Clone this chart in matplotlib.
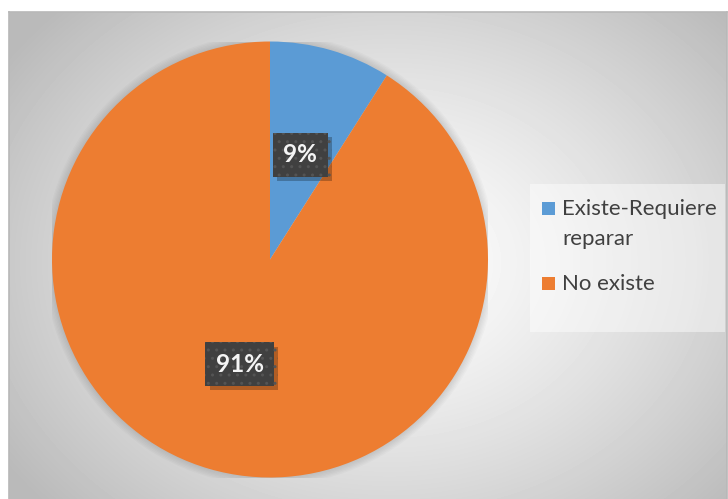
import numpy as np
import matplotlib
matplotlib.use("Agg")
import matplotlib.pyplot as plt
import matplotlib.patheffects as pe
from matplotlib.patches import Circle, Rectangle

# Datos del gráfico
categorias = ["Existe-Requiere\nreparar", "No existe"]
valores = [9, 91]
colores = ["#5B9BD5", "#ED7D31"]

W, H = 728, 499
fig = plt.figure(figsize=(W / 100, H / 100), dpi=100)
fig.patch.set_facecolor("white")

# Fondo con degradado radial (área del gráfico)
fondo = fig.add_axes([9 / W, 0, (W - 10) / W, (H - 12) / H])
yy, xx = np.mgrid[0:487, 0:718]
cx, cy = 380, 250
d = np.sqrt(((xx - cx) / 420.0) ** 2 + ((yy - cy) / 330.0) ** 2)
gris = 1.0 - 0.24 * np.clip(d, 0, 1.1) ** 1.3
fondo.imshow(gris, cmap="gray", vmin=0, vmax=1, aspect="auto",
             extent=[0, 1, 0, 1], interpolation="bilinear")
fondo.set_xlim(0, 1)
fondo.set_ylim(0, 1)
for lado in ["left", "top", "right"]:
    fondo.spines[lado].set_color("#b8b8b8")
    fondo.spines[lado].set_linewidth(1.2)
fondo.spines["bottom"].set_visible(False)
fondo.set_xticks([])
fondo.set_yticks([])

# Eje del pastel
cxp, cyp, r = 270, 259.5, 218
ax = fig.add_axes([(cxp - r) / W, (H - cyp - r) / H, 2 * r / W, 2 * r / H])
ax.set_facecolor("none")
ax.axis("off")

# Sombra suave alrededor del pastel
for k in range(6):
    ax.add_patch(Circle((0, 0), 1.0 + 0.006 * (k + 1), color="black",
                        alpha=0.018, lw=0, zorder=0))

wedges, textos, autotextos = ax.pie(
    valores, colors=colores, startangle=90, counterclock=False,
    autopct=lambda p: f"{p:.0f}%", pctdistance=0.5, radius=1.0,
    wedgeprops=dict(linewidth=0), textprops=dict(zorder=5))

for t in autotextos:
    t.set_fontsize(17.5)
    t.set_fontweight("bold")
    t.set_family("Lato")
    t.set_color("#f4f4f4")
    t.set_bbox(dict(boxstyle="square,pad=0.42", facecolor="#404040",
                    edgecolor="#545454", hatch="..", linewidth=0))
    t.get_bbox_patch().set_path_effects([
        pe.SimplePatchShadow(offset=(3, -3), shadow_rgbFace="black", alpha=0.25),
        pe.Normal()])
    t.set_zorder(6)

ax.set_xlim(-1, 1)
ax.set_ylim(-1, 1)
ax.set_aspect("equal")

# Cuadro de la leyenda
fig.patches.append(Rectangle((530 / W, (H - 332) / H), 195 / W, 148 / H,
                             transform=fig.transFigure, facecolor="white",
                             alpha=0.45, edgecolor="none"))

# Leyenda dibujada a mano: marcador alineado con la primera línea
y_base = [215, 290]   # línea base (px desde arriba) de cada entrada
for cuña, etiqueta, yb in zip(wedges, categorias, y_base):
    fig.patches.append(Rectangle((542 / W, (H - yb) / H), 13 / W, 13 / H,
                                 transform=fig.transFigure,
                                 facecolor=cuña.get_facecolor(),
                                 edgecolor="none"))
    for i, linea in enumerate(etiqueta.split("\n")):
        fig.text(562 / W, (H - yb - i * 30) / H, linea, ha="left",
                 va="baseline", family="Lato", fontsize=16, color="#404040")

fig.savefig("out.png", dpi=100)
